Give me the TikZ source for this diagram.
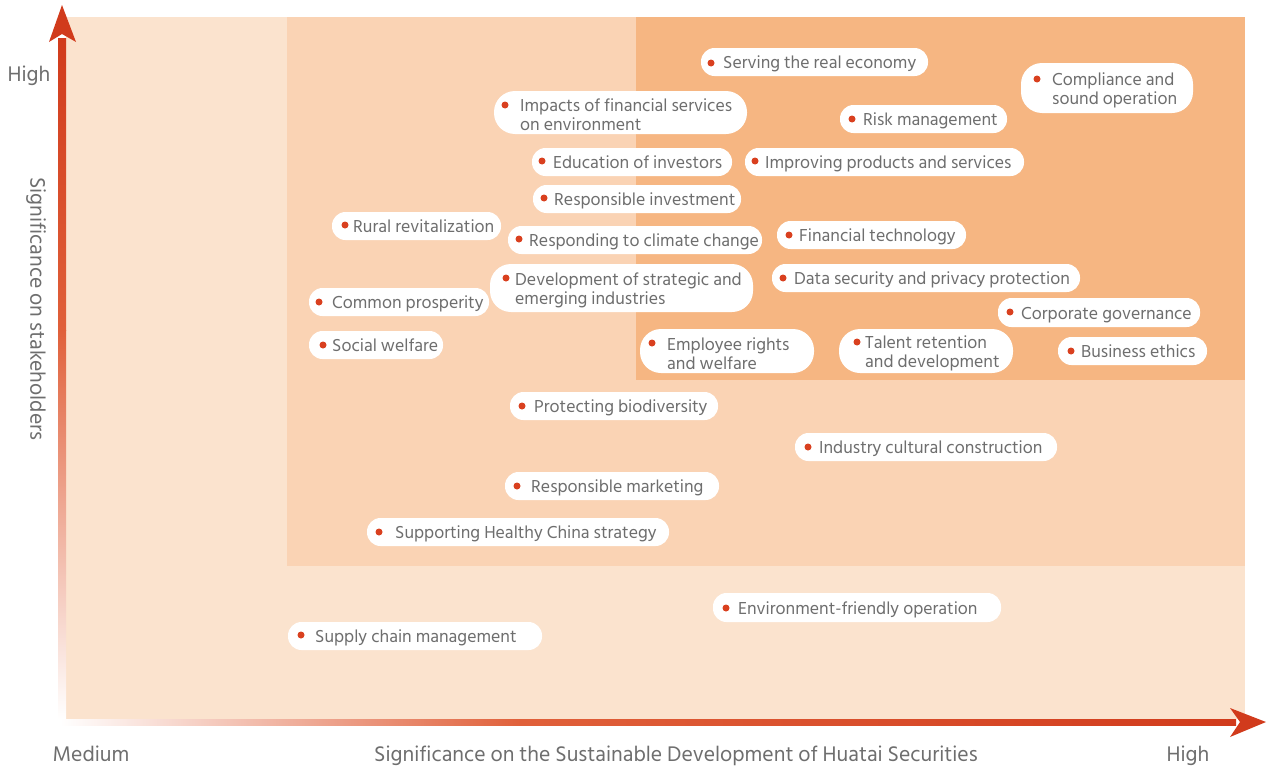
\documentclass[tikz,border=0pt]{standalone}
\usepackage{fontspec}
\setmainfont{Hind Siliguri}
\usetikzlibrary{fit}
\definecolor{bgA}{HTML}{FBE3CE}
\definecolor{bgB}{HTML}{FAD3B4}
\definecolor{bgC}{HTML}{F6B682}
\definecolor{ared}{HTML}{D13B1C}
\definecolor{amid}{HTML}{E0603A}
\definecolor{dotred}{HTML}{D9401F}
\definecolor{tgray}{HTML}{6E6E6E}
\tikzset{
 pill/.style={fill=white, draw=none, rounded corners=13.5pt, inner sep=0pt},
 tallpill/.style={pill, rounded corners=21pt},
 ptext/.style={text=tgray, font=\fontsize{17.8}{19}\selectfont, inner sep=0pt, align=left, anchor=west},
 ptextone/.style={ptext, text height=12.5pt, text depth=4pt},
 axlabel/.style={text=tgray, font=\fontsize{21.7}{26}\selectfont, inner sep=0pt},
}
% single-line pill: name, corner1, corner2, dot, text x, text
\newcommand\spill[6]{%
  \node[pill, fit={(#2) (#3)}] (#1) {};
  \fill[dotred] (#4) circle (3.5pt);
  \node[ptextone] (#1-t) at ([yshift=-2.5pt]#1.center -| #5,0) {#6};
}
% two-line pill
\newcommand\tpill[6]{%
  \node[tallpill, fit={(#2) (#3)}] (#1) {};
  \fill[dotred] (#4) circle (3.5pt);
  \node[ptext] (#1-t) at ([yshift=-2.5pt]#1.center -| #5,0) {#6};
}
\begin{document}
\begin{tikzpicture}[x=1pt,y=-1pt]
\useasboundingbox (0,0) rectangle (1267,771);
% background zones
\fill[bgA] (66,17) rectangle (1245,719);
\fill[bgB] (287,17) rectangle (1245,566);
\fill[bgC] (636,17) rectangle (1245,380);
% axes
\shade[bottom color=white, top color=amid] (58,719) rectangle (66,330);
\shade[bottom color=amid, top color=ared] (58,330.5) rectangle (66,38);
\fill[ared] (62,5) -- (76,42) -- (62,34) -- (49,42) -- cycle;
\shade[left color=white, right color=amid] (60,719) rectangle (520,725);
\shade[left color=amid, right color=ared] (519.5,719) rectangle (1236,725);
\fill[ared] (1266,722) -- (1230,737) -- (1240,722) -- (1230,708) -- cycle;
% axis labels
\node[axlabel, anchor=base] (yhigh) at (29,81) {High};
\node[axlabel, anchor=base] (xmed) at (91,761) {Medium};
\node[axlabel, anchor=base] (xtitle) at (676,761) {Significance on the Sustainable Development of Huatai Securities};
\node[axlabel, anchor=base] (xhigh) at (1188,761) {High};
\node[axlabel, rotate=-90] (ytitle) at (36,309) {Significance on stakeholders};
% pills
\spill{serve}{701,48}{928,76}{711,63}{723}{Serving the real economy}
\tpill{comply}{1021,63}{1193,113}{1037,79}{1052}{Compliance and\\sound operation}
\tpill{impacts}{494,91}{747,134}{505,105}{520}{Impacts of financial services\\on environment}
\spill{risk}{840,105}{1007,133}{852,119}{863}{Risk management}
\spill{educ}{532,148}{732,176}{542,161}{553}{Education of investors}
\spill{improve}{745,148}{1024,176}{755,161}{765}{Improving products and services}
\spill{respinv}{533,185}{741,213}{544,198}{554}{Responsible investment}
\spill{rural}{332,212}{501,240}{345,225}{353}{Rural revitalization}
\spill{climate}{508,226}{762,254}{519,239}{529}{Responding to climate change}
\spill{fintech}{777,221}{966,249}{789,235}{799}{Financial technology}
\tpill{develop}{490,264}{753,312}{506,278}{515}{Development of strategic and\\emerging industries}
\spill{data}{772,264}{1080,292}{783,278}{794}{Data security and privacy protection}
\spill{common}{309,288}{489,316}{319,302}{332}{Common prosperity}
\spill{corp}{998,298}{1200,327}{1010,312}{1021}{Corporate governance}
\spill{social}{309,331}{443,359}{323,345}{332}{Social welfare}
\tpill{employee}{640,329}{814,373}{652,343}{667}{Employee rights\\and welfare}
\tpill{talent}{839,329}{1013,373}{857,342}{865}{Talent retention\\and development}
\spill{ethics}{1058,337}{1207,365}{1071,351}{1081}{Business ethics}
\spill{biodiv}{510,392}{718,420}{522,406}{534}{Protecting biodiversity}
\spill{culture}{795,433}{1057,461}{808,447}{819}{Industry cultural construction}
\spill{marketing}{505,472}{719,500}{517,486}{531}{Responsible marketing}
\spill{healthy}{367,518}{669,546}{379,532}{395}{Supporting Healthy China strategy}
\spill{envop}{713,593}{1001,622}{726,608}{738}{Environment-friendly operation}
\spill{supply}{288,622}{542,650}{301,635}{315}{Supply chain management}
\end{tikzpicture}
\end{document}
